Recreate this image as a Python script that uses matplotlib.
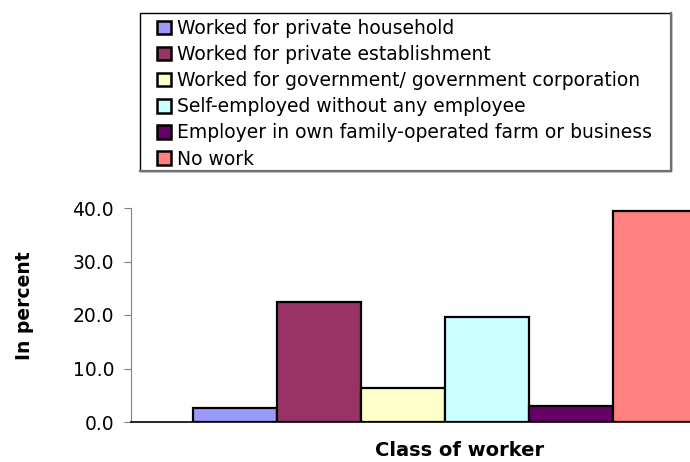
import matplotlib
matplotlib.use("Agg")
import matplotlib.pyplot as plt
from matplotlib.patches import Patch, Rectangle
from matplotlib.lines import Line2D

# class of worker, percent distribution
categories = ["Worked for private household",
              "Worked for private establishment",
              "Worked for government/ government corporation",
              "Self-employed without any employee",
              "Employer in own family-operated farm or business",
              "No work"]
values = [2.6, 22.5, 6.3, 19.7, 3.0, 39.4]
colors = ["#9999FF", "#993366", "#FFFFCC", "#CCFFFF", "#660066", "#FF8080"]
yticks = [0.0, 10.0, 20.0, 30.0, 40.0]

plt.rcParams['font.family'] = ['DejaVu Sans']

W, H = 690.0, 462.0
fig = plt.figure(figsize=(6.9, 4.62), dpi=100)
ax = fig.add_axes([130.7 / W, 1 - 422 / H, 629.3 / W, 214 / H])

pos = list(range(len(values)))
ax.bar(pos, values, width=1.0, color=colors, edgecolor="black", linewidth=1.6,
       zorder=3)

gap = 0.745
ax.set_xlim(-0.5 - gap, len(values) - 0.5 + gap)
ax.set_ylim(0, 40)
ax.set_yticks(yticks)
ax.set_yticklabels(["%.1f" % v for v in yticks], fontsize=13.5)
ax.set_xticks([])

for s in ["top", "right"]:
    ax.spines[s].set_visible(False)
ax.spines["left"].set_color("#808080")
ax.spines["bottom"].set_color("black")
ax.spines["bottom"].set_linewidth(1.2)
ax.tick_params(axis="y", direction="out", length=5, color="#808080", pad=7)

fig.text(25 / W, 1 - 306 / H, "In percent", rotation=90, fontsize=13.5,
         fontweight="bold", ha="center", va="center")
fig.text(460 / W, 1 - 451 / H, "Class of worker", fontsize=14,
         fontweight="bold", ha="center", va="center")

# legend entries, boxed separately
handles = [Patch(facecolor=c, edgecolor="black", linewidth=1.8) for c in colors]
leg = fig.legend(handles, categories, loc="upper left",
                 bbox_to_anchor=(157 / W, 1 - 19 / H), fontsize=13.5,
                 frameon=False, handlelength=0.75, handleheight=0.72,
                 handletextpad=0.3, labelspacing=0.38, borderpad=0,
                 borderaxespad=0)

x0, x1, y0, y1 = 140 / W, 671 / W, 1 - 171 / H, 1 - 13 / H
fig.patches.append(Rectangle((x0, y0), x1 - x0, y1 - y0, transform=fig.transFigure,
                             facecolor="none", edgecolor="black", linewidth=1.0))
fig.lines.append(Line2D([x0, x1, x1], [y0, y0, y1], transform=fig.transFigure,
                        color="#707070", linewidth=1.6))

fig.savefig("out.png", dpi=100)
